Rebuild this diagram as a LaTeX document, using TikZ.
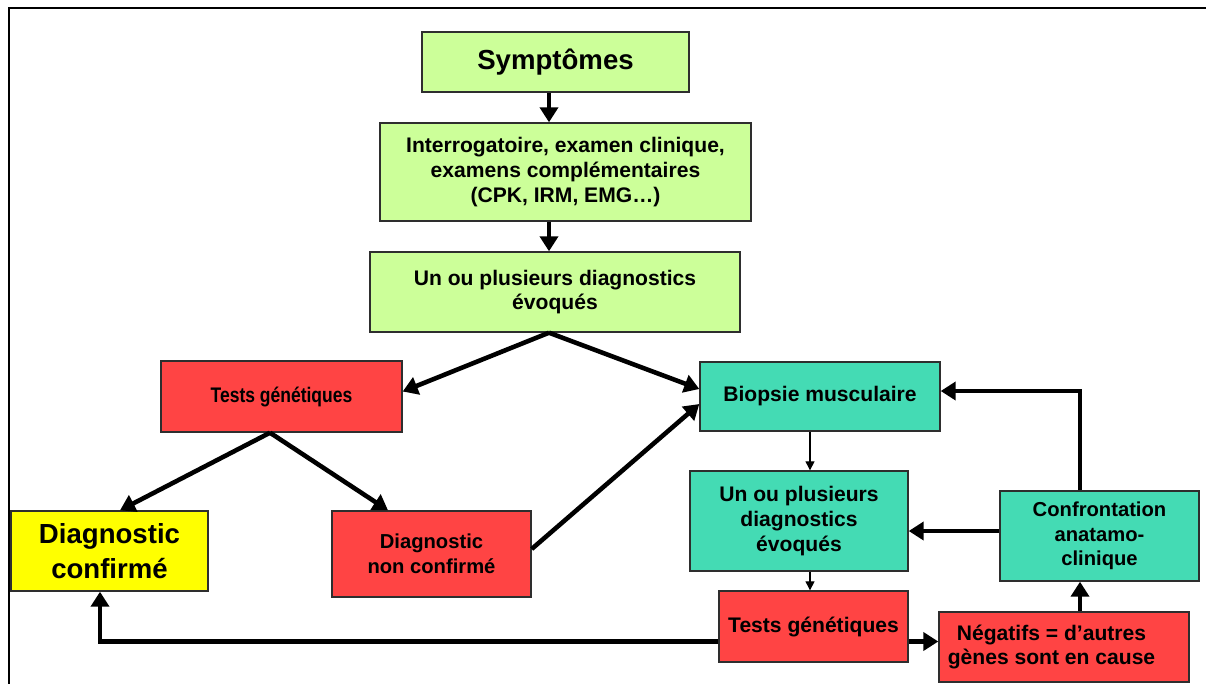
\documentclass[tikz,border=0pt]{standalone}
\usepackage{fontspec}
\setmainfont{Liberation Sans}
\newfontfamily\narrowfont{Liberation Sans}[FakeStretch=0.83]
\usetikzlibrary{arrows.meta,positioning}
\definecolor{dxlime}{HTML}{CCFF99}
\definecolor{dxred}{HTML}{FF4444}
\definecolor{dxteal}{HTML}{44DBB4}
\definecolor{dxyellow}{HTML}{FFFF00}
\definecolor{dxink}{HTML}{2E2E2E}
\tikzset{
  bx/.style={draw=dxink, line width=0.8pt, align=center, inner sep=2pt},
  lime/.style={bx, fill=dxlime},
  hot/.style={bx, fill=dxred},
  tl/.style={bx, fill=dxteal},
  ylw/.style={bx, fill=dxyellow},
  fbig/.style={font=\bfseries\fontsize{15.7}{20}\selectfont},
  fmid/.style={font=\bfseries\fontsize{12}{14}\selectfont},
  fsml/.style={font=\bfseries\fontsize{11.5}{14}\selectfont},
  arr/.style={-{Triangle[length=3mm, width=3.6mm]}, line width=2.6pt},
  arrthin/.style={-{Triangle[length=1.8mm, width=1.8mm]}, line width=0.7pt},
  frm/.style={line width=1.6pt},
}
\begin{document}
\begin{tikzpicture}[x=0.02cm, y=-0.02cm]
  \useasboundingbox (0,0) rectangle (1206,684);
  \draw[frm] (1206,8) -- (9,8) -- (9,684);

  % top column
  \node[lime, fbig, minimum width=5.34cm, minimum height=1.2cm] (sym) at (555.5,62) {Symptômes};
  \node[lime, fmid, minimum width=7.42cm, minimum height=1.96cm] (intg) at (565.5,172)
    {Interrogatoire, examen clinique,\\examens complémentaires\\(CPK, IRM, EMG…)};
  \node[lime, fmid, minimum width=7.4cm, minimum height=1.6cm] (uo1) at (555,292)
    {Un ou plusieurs diagnostics\\évoqués};

  % genetic branch
  \node[hot, font=\narrowfont\bfseries\fontsize{12}{14}\selectfont, minimum width=4.82cm, minimum height=1.42cm] (tg1) at (281.5,396.5) {Tests génétiques};
  \node[ylw, fbig, minimum width=3.94cm, minimum height=1.6cm] (dc) at (109.5,551) {Diagnostic\\confirmé};
  \node[hot, fsml, minimum width=3.98cm, minimum height=1.72cm] (dnc) at (431.5,554) {Diagnostic\\non confirmé};

  % biopsy branch
  \node[tl, fmid, minimum width=4.8cm, minimum height=1.38cm] (bio) at (820,396.5) {Biopsie musculaire};
  \node[tl, fmid, minimum width=4.36cm, minimum height=2cm] (uo2) at (799,521) {Un ou plusieurs\\diagnostics\\évoqués};
  \node[tl, fsml, minimum width=3.98cm, minimum height=1.8cm] (conf) at (1099.5,536) {Confrontation\\anatamo-\\clinique};
  \node[hot, fmid, minimum width=3.78cm, minimum height=1.42cm] (tg2) at (813.5,626.5) {Tests génétiques};
  \node[hot, fmid, minimum width=5cm, minimum height=1.4cm] (neg) at (1064,647) {Négatifs = d’autres\hspace*{0.5cm}\\gènes sont en cause\hspace*{0.5cm}};

  \draw[arr] ([xshift=-0.13cm]sym.south) -- ([xshift=-0.13cm]sym.south |- intg.north);
  \draw[arr] ([xshift=-0.12cm]uo1.north |- intg.south) -- ([xshift=-0.12cm]uo1.north);
  \draw[arr] ([xshift=-0.12cm]uo1.south) -- ([yshift=0.1cm]tg1.east);
  \draw[arr] ([xshift=-0.12cm]uo1.south) -- ([yshift=0.15cm]bio.west);
  \draw[arr] ([xshift=-0.23cm]tg1.south) -- ([xshift=0.21cm]dc.north);
  \draw[arr] ([xshift=-0.23cm]tg1.south) -- ([xshift=-0.87cm]dnc.north);
  \draw[arr] ([yshift=0.1cm]dnc.east) -- ([yshift=-0.15cm]bio.west);
  \draw[arrthin] ([xshift=-0.2cm]bio.south) -- ([xshift=-0.2cm]bio.south |- uo2.north);
  \draw[arrthin] ([xshift=-0.07cm]tg2.north |- uo2.south) -- ([xshift=-0.07cm]tg2.north);
  \draw[arr] ([yshift=0.1cm]conf.west) -- ([yshift=0.1cm]conf.west -| uo2.east);
  \draw[arr] ([xshift=-0.39cm]conf.north) |- ([yshift=0.11cm]bio.east);
  \draw[arr] ([xshift=-0.39cm]conf.south |- neg.north) -- ([xshift=-0.39cm]conf.south);
  \draw[arr] ([yshift=-0.3cm]tg2.east) -- ([yshift=-0.3cm]tg2.east -| neg.west);
  \draw[arr] ([yshift=-0.3cm]tg2.west) -| ([xshift=-0.19cm]dc.south);
\end{tikzpicture}
\end{document}
